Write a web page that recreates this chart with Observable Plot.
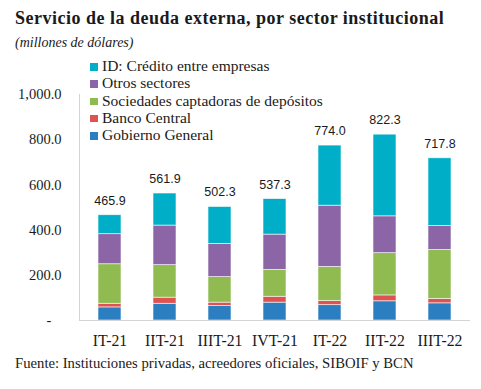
<!DOCTYPE html>
<html><head><meta charset="utf-8">
<script src="https://cdn.jsdelivr.net/npm/d3@7"></script>
<script src="https://cdn.jsdelivr.net/npm/@observablehq/plot@0.6"></script>
<style>
body{margin:0;background:#fff;}
#wrap{position:relative;width:481px;height:389px;overflow:hidden;font-family:"Liberation Serif",serif;color:#1a1a1a;}
.t{position:absolute;white-space:nowrap;line-height:1;}
#title{left:15px;top:9px;font-size:18px;font-weight:bold;letter-spacing:0.5px;}
#subtitle{left:15px;top:36.2px;font-size:14px;font-style:italic;}
#footer{left:15px;top:356px;font-size:14.7px;}
#chart{position:absolute;left:0;top:50px;}
#legend{position:absolute;left:90px;top:0;}
.row{position:absolute;left:0;white-space:nowrap;font-size:15.5px;line-height:1;}
.sw{position:absolute;left:0;width:7.5px;height:7.5px;}
.lb{position:absolute;left:12px;top:0;}
</style></head><body><div id="wrap">
<div id="title" class="t">Servicio de la deuda externa, por sector institucional</div>
<div id="subtitle" class="t">(millones de dólares)</div>
<div id="chart"></div>
<div id="legend"></div>
<div id="footer" class="t">Fuente: Instituciones privadas, acreedores oficiales, SIBOIF y BCN</div>
</div>
<script>
const periods = ["IT-21","IIT-21","IIIT-21","IVT-21","IT-22","IIT-22","IIIT-22"];
const series = ["Gobierno General","Banco Central","Sociedades captadoras de depósitos","Otros sectores","ID: Crédito entre empresas"];
const colors = ["#2b7fc0","#de5252","#8fbb50","#8b65a5","#00afc7"];
const gobierno = [58,74,64,79,68,85,76];
const banco = [16,27,15,26,18,26,19];
const sociedades = [175,144,113,119,151,187,217];
const otros = [133,175,147,156,271,163,106];
const credito = [83.9,141.9,163.3,157.3,266.0,361.3,299.8];
const totals = [465.9,561.9,502.3,537.3,774.0,822.3,717.8];
const yTicks = [0,200,400,600,800,1000];

const seriesValues = [gobierno, banco, sociedades, otros, credito];
const data = [];
series.forEach((s, i) => periods.forEach((p, j) => data.push({period: p, series: s, value: seriesValues[i][j]})));
const totalData = periods.map((p, j) => ({period: p, total: totals[j]}));

const fmt = d3.format(",.1f");
const plot = Plot.plot({
  width: 481, height: 300,
  marginLeft: 79, marginRight: 11, marginTop: 44, marginBottom: 30,
  style: {fontFamily: "Liberation Serif, serif", fontSize: "14.5px", color: "#1a1a1a", background: "transparent", overflow: "visible"},
  x: {domain: periods, paddingInner: 0.59, paddingOuter: 0.295, label: null},
  y: {domain: [0, 1000], ticks: yTicks, label: null},
  color: {domain: series, range: colors},
  marks: [
    Plot.barY(data, {x: "period", y: "value", fill: "series", order: series, stroke: "#ffffff", strokeOpacity: 0.7, strokeWidth: 0.8}),
    Plot.frame({anchor: "left", stroke: "#d4d4d4"}),
    Plot.ruleY([0], {stroke: "#d4d4d4"}),
    Plot.axisX({tickSize: 0, tickPadding: 14, fontSize: 15.8, label: null}),
    Plot.axisY({ticks: yTicks, tickSize: 0, tickPadding: 18, fontSize: 14.5, label: null,
      tickFormat: d => d === 0 ? "-\u2007\u2009" : fmt(d)}),
    Plot.text(totalData, {x: "period", y: "total", text: d => d3.format(".1f")(d.total), lineAnchor: "bottom", dy: -10.5, fontFamily: "Liberation Sans, sans-serif", fontSize: 12.5, fill: "#1a1a1a"})
  ]
});
document.getElementById("chart").appendChild(plot);

const legend = document.getElementById("legend");
series.slice().reverse().forEach((s, k) => {
  const i = series.indexOf(s);
  const row = document.createElement("div");
  row.className = "row";
  row.style.top = (58 + k * 17.3) + "px";
  row.innerHTML = `<span class="sw" style="background:${colors[i]};top:5px"></span><span class="lb">${s}</span>`;
  legend.appendChild(row);
});
</script>
</body></html>
